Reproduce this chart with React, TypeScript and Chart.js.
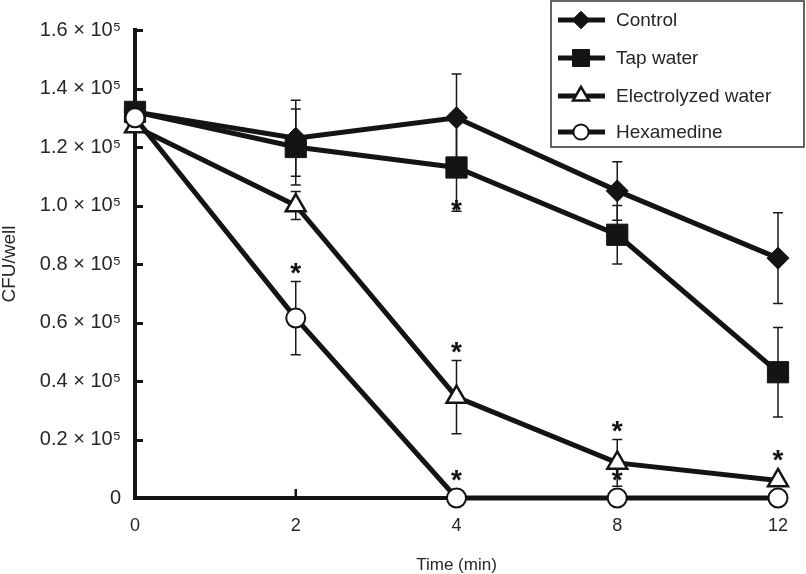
import React, { useEffect, useRef } from 'react';
import { Chart, registerables } from 'chart.js';
import { drawPoint } from 'chart.js/helpers';

Chart.register(...registerables);

// ---- data (CFU/well in units of 10^5) ----
const timeLabels = ['0', '2', '4', '8', '12'];
const seriesNames = ['Control', 'Tap water', 'Electrolyzed water', 'Hexamedine'];
const controlValues = [1.32, 1.23, 1.30, 1.05, 0.82];
const tapValues = [1.32, 1.20, 1.13, 0.90, 0.43];
const electroValues = [1.27, 1.00, 0.345, 0.12, 0.06];
const hexaValues = [1.30, 0.615, 0, 0, 0];
const controlErrors = [0, 0.13, 0.15, 0.10, 0.155];
const tapErrors = [0, 0.13, 0.15, 0.10, 0.153];
const electroErrors = [0, 0.048, 0.125, 0.08, 0];
const hexaErrors = [0, 0.125, 0, 0, 0];
const yMin = 0;
const yMax = 1.6;
const yStep = 0.2;
const xTitle = 'Time (min)';
const yTitle = 'CFU/well';
// significance marks: dataset index, point index, side of the error bar
const sigDataset = [1, 3, 2, 3, 2, 3, 2];
const sigIndex = [2, 1, 2, 2, 3, 3, 4];
const sigSide = ['below', 'above', 'above', 'above', 'above', 'above', 'above'];

const INK = '#141414';
const TEXT = '#262626';
const FONT = "'Liberation Sans', Arial, Helvetica, sans-serif";

const errorBarsPlugin = {
  id: 'errorBars',
  beforeDatasetsDraw(chart: any) {
    const ctx = chart.ctx;
    const y = chart.scales.y;
    const x = chart.scales.x;
    const area = chart.chartArea;
    ctx.save();
    // inward tick marks on the axes
    ctx.strokeStyle = INK;
    ctx.lineWidth = 3;
    for (let v = yMin + yStep; v <= yMax + 1e-9; v += yStep) {
      const py = Math.round(y.getPixelForValue(v)) + 0.5;
      ctx.beginPath();
      ctx.moveTo(area.left, py);
      ctx.lineTo(area.left + 8, py);
      ctx.stroke();
    }
    ctx.lineWidth = 2.5;
    for (let i = 1; i < timeLabels.length; i++) {
      const px = x.getPixelForValue(i);
      ctx.beginPath();
      ctx.moveTo(px, area.bottom);
      ctx.lineTo(px, area.bottom - 9);
      ctx.stroke();
    }
    // error bars
    ctx.lineWidth = 1.5;
    ctx.strokeStyle = '#1a1a1a';
    chart.data.datasets.forEach((ds: any) => {
      const errs: number[] = ds.errors;
      ds.data.forEach((val: number, i: number) => {
        const e = errs[i];
        if (!e) return;
        const px = x.getPixelForValue(i);
        const top = y.getPixelForValue(val + e);
        const bot = y.getPixelForValue(Math.max(0, val - e));
        ctx.beginPath();
        ctx.moveTo(px, top);
        ctx.lineTo(px, bot);
        ctx.moveTo(px - 5, top);
        ctx.lineTo(px + 5, top);
        ctx.moveTo(px - 5, bot);
        ctx.lineTo(px + 5, bot);
        ctx.stroke();
      });
    });
    ctx.restore();
  },
  afterDatasetsDraw(chart: any) {
    const ctx = chart.ctx;
    const y = chart.scales.y;
    const x = chart.scales.x;
    ctx.save();
    ctx.fillStyle = INK;
    ctx.font = `bold 28px ${FONT}`;
    ctx.textAlign = 'center';
    ctx.textBaseline = 'alphabetic';
    for (let k = 0; k < sigDataset.length; k++) {
      const ds: any = chart.data.datasets[sigDataset[k]];
      const i = sigIndex[k];
      const val = ds.data[i];
      const e = ds.errors[i] || 0;
      const px = x.getPixelForValue(i);
      let cy;
      if (sigSide[k] === 'above') {
        const top = Math.min(y.getPixelForValue(val + e), y.getPixelForValue(val) - ds.pointRadius);
        cy = top - 16;
      } else {
        cy = y.getPixelForValue(Math.max(0, val - e)) - 8;
      }
      ctx.fillText('*', px, cy + 16);
    }
    ctx.restore();
  },
  afterDraw(chart: any) {
    const ctx = chart.ctx;
    ctx.save();
    // legend box
    const bx = 551, by = 1, bw = 253, bh = 146;
    ctx.strokeStyle = '#333';
    ctx.lineWidth = 1.5;
    ctx.strokeRect(bx, by, bw, bh);
    const rowY = [20, 58, 96, 132];
    chart.data.datasets.forEach((ds: any, i: number) => {
      const yy = rowY[i];
      ctx.strokeStyle = INK;
      ctx.lineWidth = 5;
      ctx.beginPath();
      ctx.moveTo(558, yy);
      ctx.lineTo(605, yy);
      ctx.stroke();
      ctx.fillStyle = ds.pointBackgroundColor;
      ctx.strokeStyle = ds.pointBorderColor;
      ctx.lineWidth = ds.pointBorderWidth;
      drawPoint(ctx, { pointStyle: ds.pointStyle, rotation: 0, radius: ds.pointRadius * 0.8, borderWidth: ds.pointBorderWidth }, 581, yy);
      ctx.fillStyle = TEXT;
      ctx.font = `19px ${FONT}`;
      ctx.textAlign = 'left';
      ctx.textBaseline = 'middle';
      ctx.fillText(seriesNames[i], 616, yy + 1);
    });
    ctx.restore();
  },
};

function makeDataset(label: string, data: number[], errors: number[], style: string, radius: number, filled: boolean, order: number, bw: number) {
  return {
    label,
    data,
    errors,
    order,
    borderColor: INK,
    borderWidth: 5,
    pointStyle: style,
    pointRadius: radius,
    pointHoverRadius: radius,
    pointBackgroundColor: filled ? INK : '#ffffff',
    pointBorderColor: INK,
    pointBorderWidth: bw,
    tension: 0,
    clip: false,
    fill: false,
  };
}

export default function App() {
  const ref = useRef<HTMLCanvasElement | null>(null);
  useEffect(() => {
    if (!ref.current) return;
    const chart = new Chart(ref.current, {
      type: 'line',
      data: {
        labels: timeLabels,
        datasets: [
          makeDataset(seriesNames[0], controlValues, controlErrors, 'rectRot', 11, true, 4, 1),
          makeDataset(seriesNames[1], tapValues, tapErrors, 'rect', 15, true, 3, 1),
          makeDataset(seriesNames[2], electroValues, electroErrors, 'triangle', 11.5, false, 2, 2.5),
          makeDataset(seriesNames[3], hexaValues, hexaErrors, 'circle', 9.5, false, 1, 2),
        ] as any,
      },
      options: {
        animation: false,
        responsive: false,
        maintainAspectRatio: false,
        layout: { padding: { top: 30, right: 28, left: 0, bottom: 0 } },
        plugins: { legend: { display: false }, tooltip: { enabled: false } },
        scales: {
          x: {
            type: 'category',
            offset: false,
            grid: { display: false, drawTicks: false },
            border: { display: true, color: INK, width: 4 },
            ticks: { color: TEXT, font: { family: FONT, size: 18 }, padding: 17, maxRotation: 0 },
            title: { display: true, text: xTitle, color: TEXT, font: { family: FONT, size: 17 }, padding: { top: 0, bottom: -2 } },
            afterFit(scale: any) { scale.height = 76; },
          },
          y: {
            min: yMin,
            max: yMax,
            grid: { display: false, drawTicks: false },
            border: { display: true, color: INK, width: 4 },
            ticks: {
              stepSize: yStep,
              color: TEXT,
              font: { family: FONT, size: 20 },
              padding: 14,
              callback: (v: any) => (Number(v) === 0 ? '0' : Number(v).toFixed(1) + ' × 10⁵'),
            },
            title: { display: true, text: yTitle, color: TEXT, font: { family: FONT, size: 19 }, padding: { top: -2, bottom: 0 } },
            afterFit(scale: any) { scale.width = 135; },
          },
        },
      } as any,
      plugins: [errorBarsPlugin],
    });
    return () => chart.destroy();
  }, []);
  return (
    <div style={{ position: 'fixed', left: 0, top: 0, width: 806, height: 574, background: '#fff' }}>
      <canvas ref={ref} width={806} height={574} style={{ display: 'block' }} />
    </div>
  );
}
